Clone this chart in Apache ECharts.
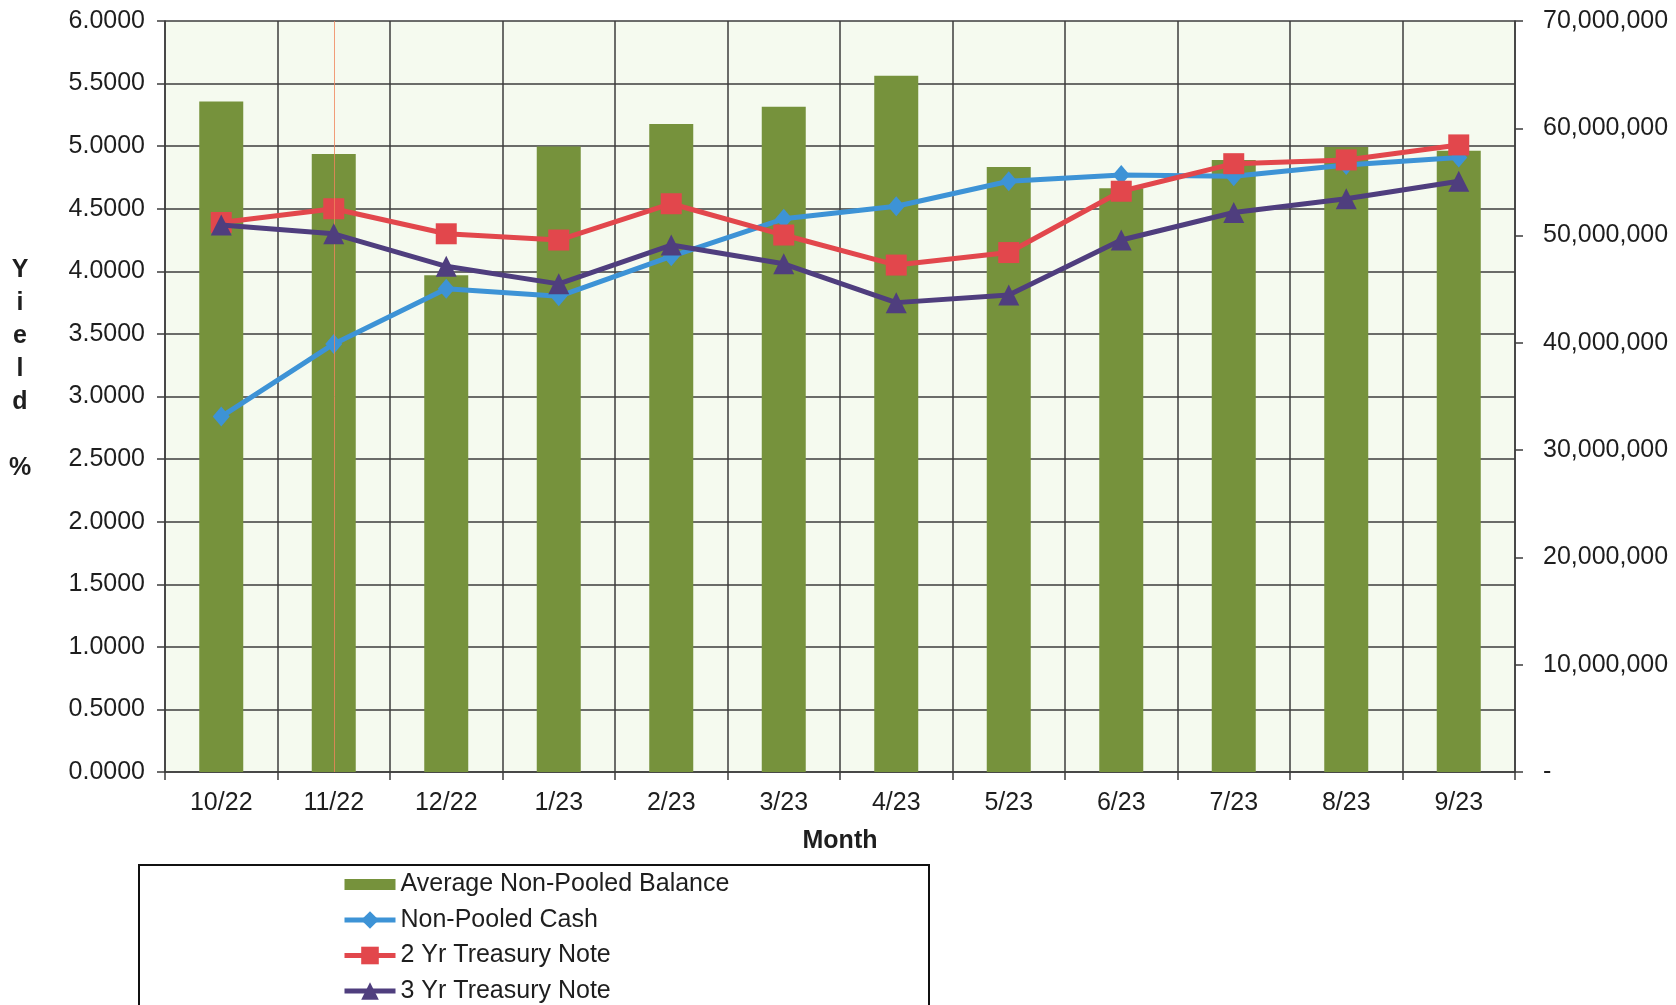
<!DOCTYPE html>
<html>
<head>
<meta charset="utf-8">
<script src="https://cdn.jsdelivr.net/npm/echarts@6/dist/echarts.min.js"></script>
<style>
html,body{margin:0;padding:0;background:#fff;}
#chart{width:1676px;height:1005px;}
</style>
</head>
<body>
<div id="chart"></div>
<script>
var months = ['10/22','11/22','12/22','1/23','2/23','3/23','4/23','5/23','6/23','7/23','8/23','9/23'];
var balance = [62500000, 57600000, 46300000, 58300000, 60400000, 62000000, 64900000, 56400000, 54400000, 57050000, 58250000, 57900000];
var cash = [2.84, 3.42, 3.86, 3.80, 4.12, 4.42, 4.52, 4.72, 4.77, 4.76, 4.85, 4.91];
var twoYr = [4.39, 4.50, 4.30, 4.25, 4.54, 4.29, 4.05, 4.15, 4.64, 4.86, 4.89, 5.01];
var threeYr = [4.37, 4.30, 4.04, 3.90, 4.21, 4.06, 3.75, 3.81, 4.25, 4.47, 4.58, 4.72];
var seriesNames = ['Average Non-Pooled Balance','Non-Pooled Cash','2 Yr Treasury Note','3 Yr Treasury Note'];

var FONT = "'Liberation Sans', Arial, sans-serif";
var TXT = '#1e1e1e';
var GRID = '#3c3c3c';

var chart = echarts.init(document.getElementById('chart'));
chart.setOption({
  animation: false,
  backgroundColor: '#ffffff',
  textStyle: {fontFamily: FONT},
  grid: {
    left: 165, right: 161, top: 21, bottom: 233,
    show: true, backgroundColor: '#F5FAEF', borderWidth: 0
  },
  graphic: [{
    type: 'rect', x: 139, y: 865, z: 0,
    shape: {width: 790, height: 220},
    style: {fill: 'none', stroke: '#111', lineWidth: 2}
  }],
  legend: {
    orient: 'vertical', left: 342, top: 872, padding: 0, height: 200,
    itemWidth: 51, itemHeight: 22, itemGap: 10.5,
    lineStyle: {width: 5},
    textStyle: {fontSize: 25, color: TXT, lineHeight: 22, fontFamily: FONT},
    data: [
      {name: seriesNames[0], icon: 'path://M0,0 L0,0 M0,5.5 L51,5.5 L51,16.5 L0,16.5 Z M51,22 L51,22'},
      {name: seriesNames[1]},
      {name: seriesNames[2]},
      {name: seriesNames[3]}
    ]
  },
  xAxis: {
    type: 'category', data: months, boundaryGap: true,
    name: 'Month', nameLocation: 'middle', nameGap: 57,
    nameTextStyle: {fontSize: 25, fontWeight: 'bold', color: TXT, fontFamily: FONT},
    axisLine: {show: true, lineStyle: {color: GRID, width: 1.5}},
    axisTick: {show: true, length: 8, lineStyle: {color: GRID, width: 1.5}},
    axisLabel: {fontSize: 25, color: TXT, margin: 19, fontFamily: FONT},
    splitLine: {show: true, lineStyle: {color: GRID, width: 1.5}}
  },
  yAxis: [{
    type: 'value', min: 0, max: 6, interval: 0.5, position: 'left',
    name: 'Y\ni\ne\nl\nd\n\n%\n{s| }', nameLocation: 'middle', nameRotate: 0, nameGap: 145,
    nameTextStyle: {fontSize: 25, fontWeight: 'bold', color: TXT, align: 'center', verticalAlign: 'middle', lineHeight: 33, fontFamily: FONT,
      rich: {s: {lineHeight: 54, fontSize: 25}}},
    axisLine: {show: true, lineStyle: {color: GRID, width: 1.5}},
    axisTick: {show: true, length: 8, lineStyle: {color: GRID, width: 1.5}},
    axisLabel: {fontSize: 25, color: TXT, margin: 20, fontFamily: FONT, formatter: function(v){return v.toFixed(4);}},
    splitLine: {show: true, lineStyle: {color: GRID, width: 1.5}}
  }, {
    type: 'value', min: 0, max: 70000000, interval: 10000000, position: 'right',
    axisLine: {show: true, lineStyle: {color: GRID, width: 1.5}},
    axisTick: {show: true, length: 8, lineStyle: {color: GRID, width: 1.5}},
    axisLabel: {fontSize: 25, color: TXT, margin: 28, fontFamily: FONT,
      formatter: function(v){return v === 0 ? '-' : v.toLocaleString('en-US');}},
    splitLine: {show: false}
  }],
  series: [{
    name: seriesNames[0], type: 'bar', yAxisIndex: 1, data: balance,
    barWidth: 44, itemStyle: {color: '#76923C'}, z: 2,
    markLine: {
      silent: true, symbol: 'none', label: {show: false},
      lineStyle: {color: '#F0845A', width: 1, type: 'solid', opacity: 0.8},
      data: [{xAxis: '11/22'}]
    }
  }, {
    name: seriesNames[1], type: 'line', yAxisIndex: 0, data: cash,
    symbol: 'diamond', symbolSize: [17, 20], z: 3,
    lineStyle: {color: '#3D93D6', width: 5},
    itemStyle: {color: '#3D93D6'}
  }, {
    name: seriesNames[2], type: 'line', yAxisIndex: 0, data: twoYr,
    symbol: 'rect', symbolSize: 21, z: 4,
    lineStyle: {color: '#E2474C', width: 5},
    itemStyle: {color: '#E2474C'}
  }, {
    name: seriesNames[3], type: 'line', yAxisIndex: 0, data: threeYr,
    symbol: 'triangle', symbolSize: 21, z: 5,
    lineStyle: {color: '#4F3E7E', width: 5},
    itemStyle: {color: '#4F3E7E'}
  }]
});
</script>
</body>
</html>
